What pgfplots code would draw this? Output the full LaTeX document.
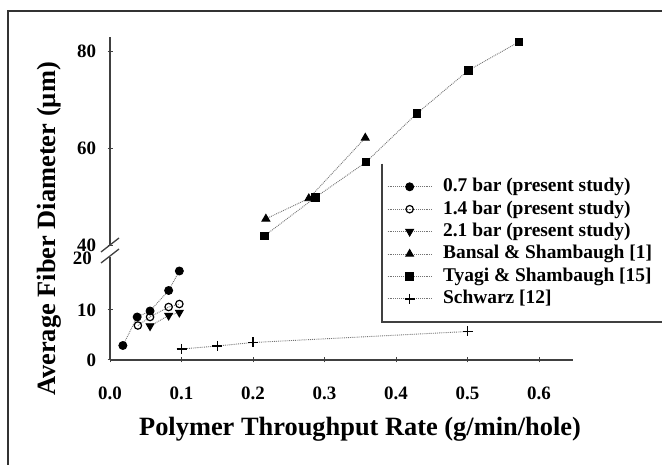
\documentclass[border=0pt]{standalone}
\usepackage{fontspec}
\setmainfont{Liberation Serif}
\usepackage{pgfplots}
\pgfplotsset{compat=1.18}
\pgfplotsset{
 common/.style={
  scale only axis, width=463bp, xmin=0, xmax=0.6475,
  axis line style={line width=1.3bp, black!75},
  tick style={line width=1bp, black!75},
  tick align=outside, major tick length=5bp,
  ticklabel style={font=\fontsize{19}{19}\selectfont\bfseries},
  /pgf/number format/assume math mode=true,
  clip=false,
 },
 noarrows/.style={
  every outer x axis line/.append style={-},
  every outer y axis line/.append style={-},
  every inner x axis line/.append style={-},
  every inner y axis line/.append style={-},
  axis line style={-},
 },
 ser/.style={densely dotted, line width=0.9bp, black!55},
 s07/.style={ser, mark=*, mark size=4bp, mark options={solid, draw=black, fill=black}},
 s14/.style={ser, mark=o, mark size=3.7bp, mark options={solid, draw=black, fill=white, line width=1.2bp}},
 s21/.style={ser, mark=triangle*, mark size=4.5bp, mark options={solid, draw=black, fill=black, rotate=180}},
 sban/.style={ser, mark=triangle*, mark size=4.5bp, mark options={solid, draw=black, fill=black}},
 styg/.style={ser, mark=square*, mark size=3.8bp, mark options={solid, draw=black, fill=black}},
 ssch/.style={ser, mark=+, mark size=5bp, mark options={solid, draw=black, line width=1.5bp}},
}
\begin{document}
\begin{tikzpicture}
\useasboundingbox (0bp,0bp) rectangle (662bp,465bp);
% outer frame
\draw[line width=2.6bp, black!80] (8bp,-20bp) -- (8bp,454bp) -- (700bp,454bp);

% lower panel
\begin{axis}[common,
  at={(110bp,105bp)}, anchor=south west, height=103bp,
  ymin=0, ymax=20.6,
  axis x line=bottom, axis y line=left, noarrows,
  xtick={0,0.1,0.2,0.3,0.4,0.5,0.6},
  xticklabel style={/pgf/number format/fixed, /pgf/number format/fixed zerofill, /pgf/number format/precision=1, yshift=-21bp},
  ytick={0,10}, 
  yticklabel style={xshift=-8bp},
  legend style={name=leg, at={(0.5875,0.369)}, anchor=south west, draw=none,
    fill=white, font=\fontsize{19.5}{19.5}\selectfont\bfseries, inner xsep=5bp, inner ysep=13bp,
    row sep=2.4bp,
    nodes={inner xsep=10bp, inner ysep=0.5bp, text height=14.5bp, text depth=4.5bp}},
  legend cell align=left,
  legend image code/.code={\draw[mark repeat=2, mark phase=2, #1] plot coordinates {(0bp,0bp) (22bp,0bp) (45bp,0bp)};},
]
\addplot[s07] coordinates {(0.018,2.9) (0.038,8.6) (0.056,9.8) (0.082,13.9) (0.097,17.8)};
\addlegendentry{0.7 bar (present study)}
\addplot[s14] coordinates {(0.039,6.9) (0.056,8.6) (0.082,10.6) (0.097,11.2)};
\addlegendentry{1.4 bar (present study)}
\addplot[s21] coordinates {(0.056,6.8) (0.082,8.9) (0.097,9.5)};
\addlegendentry{2.1 bar (present study)}
\addlegendimage{sban}
\addlegendentry{Bansal \& Shambaugh [1]}
\addlegendimage{styg}
\addlegendentry{Tyagi \& Shambaugh [15]}
\addplot[ssch] coordinates {(0.1,2.2) (0.15,2.8) (0.2,3.5) (0.5,5.7)};
\addlegendentry{Schwarz [12]}
\end{axis}
\draw[line width=1.2bp, black!75] (leg.north west) -- (leg.south west) -- (700bp,0|-leg.south west);

% upper panel
\begin{axis}[common,
  at={(110bp,219bp)}, anchor=south west, height=209bp,
  ymin=39.8, ymax=82.9,
  axis x line=none, axis y line=left, noarrows,
  ytick={40,60,80},
  yticklabel style={xshift=-8bp},
]
\addplot[sban] coordinates {(0.218,45.4) (0.278,49.6) (0.357,62.1)};
\addplot[styg] coordinates {(0.216,41.9) (0.287,49.8) (0.358,57.1) (0.429,67.1) (0.501,76.0) (0.572,81.9)};
\end{axis}

% break marks
\draw[line width=1.3bp, black!75] (101bp,213bp) -- (119bp,227bp);
\draw[line width=1.3bp, black!75] (101bp,202bp) -- (119bp,216bp);
\node[font=\fontsize{19}{19}\selectfont\bfseries, anchor=east, inner sep=0pt] at (92bp,207bp) {20};

% axis labels
\node[font=\fontsize{26.5}{26.5}\selectfont\bfseries, anchor=base] at (360bp,30bp) {Polymer Throughput Rate (g/min/hole)};
\node[font=\fontsize{26.5}{26.5}\selectfont\bfseries, rotate=90, anchor=base] at (55bp,236bp) {Average Fiber Diameter (µm)};
\end{tikzpicture}
\end{document}
